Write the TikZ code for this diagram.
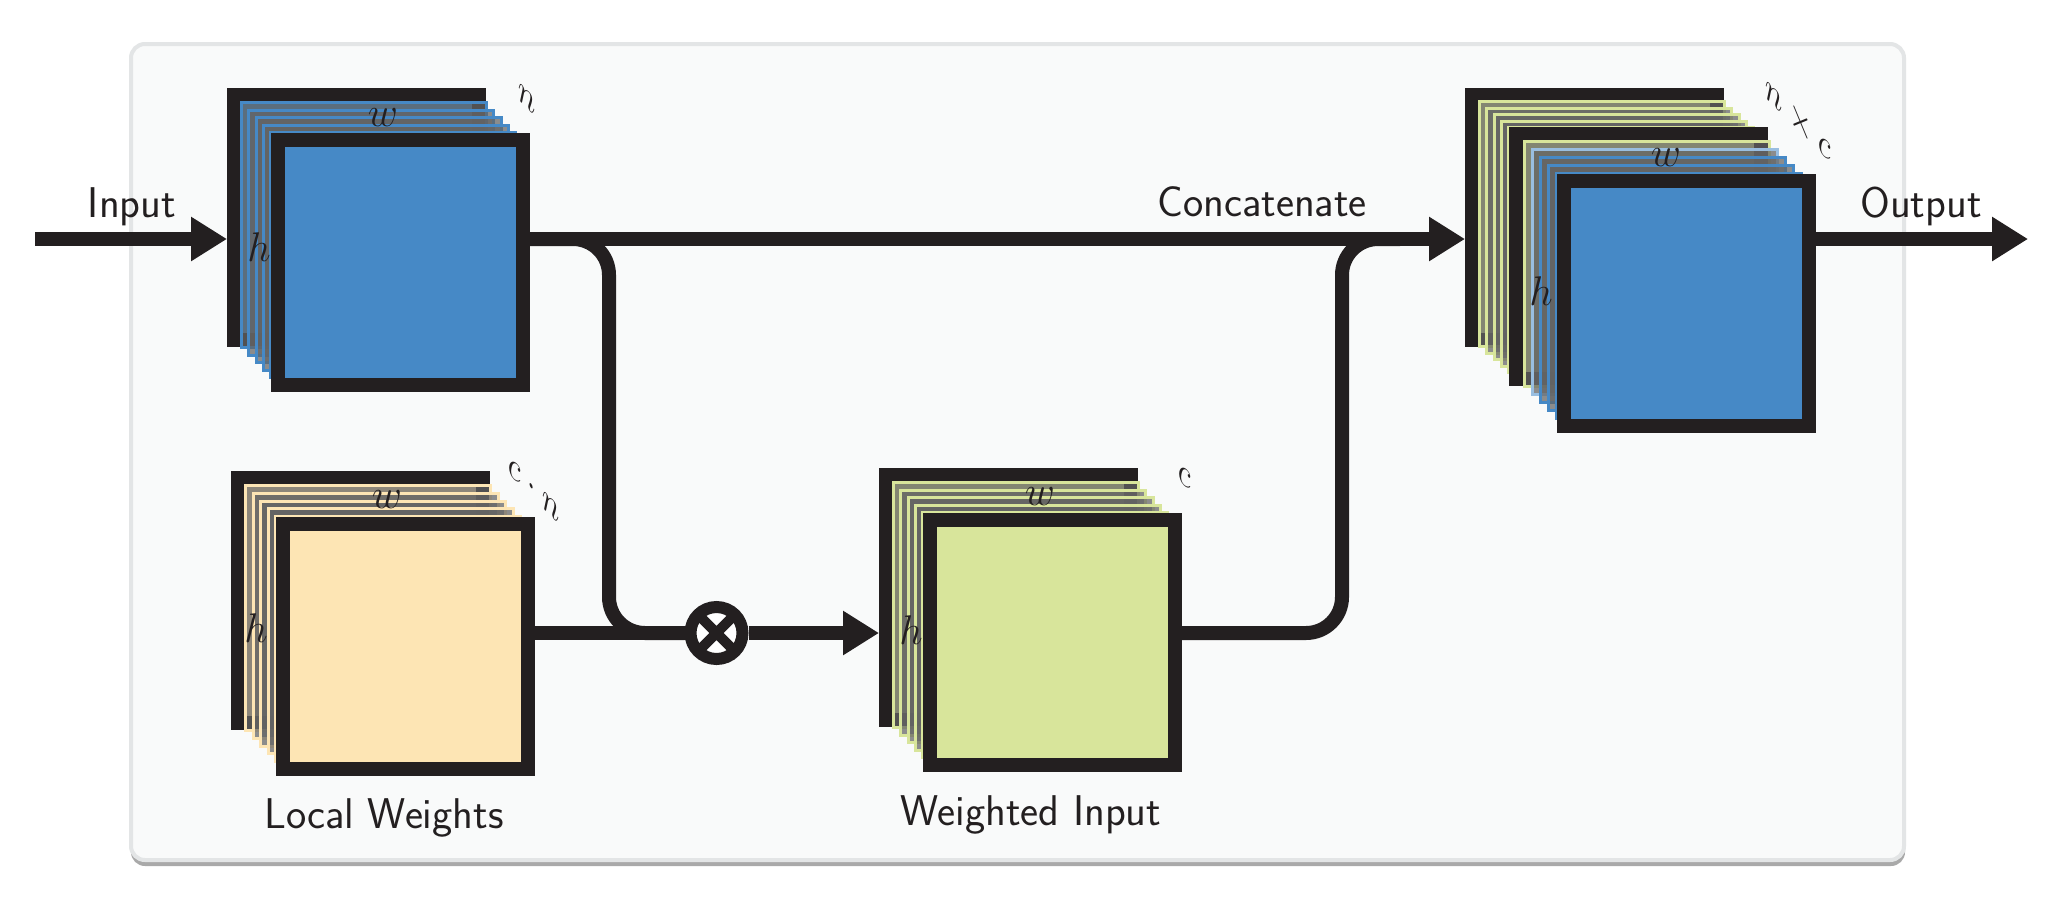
\documentclass[tikz,border=0pt]{standalone}
\usetikzlibrary{arrows.meta}
\definecolor{ink}{HTML}{231F20}
\definecolor{cblue}{HTML}{4689C6}
\definecolor{cpeach}{HTML}{FDE5B4}
\definecolor{cgreen}{HTML}{D8E59B}
\definecolor{laygray}{HTML}{646464}
\definecolor{panelfill}{HTML}{F9FAFA}
\definecolor{paneledge}{HTML}{E3E5E6}
\definecolor{panelshadow}{HTML}{A9A9A9}
\tikzset{
  fmap/.style={draw=ink, line width=7pt, minimum size=122.5pt, inner sep=0pt},
  thinmap/.style={draw=#1, line width=1.5pt, fill=laygray, fill opacity=0.73, draw opacity=1, minimum size=122.5pt, inner sep=0pt},
  conn/.style={draw=ink, line width=7pt},
  arr/.style={-{Triangle[length=18pt,width=21pt]}},
  txt/.style={font=\sffamily\fontsize{21.5pt}{26pt}\selectfont, text=ink, inner sep=0pt},
  mlab/.style={font=\fontsize{20.74pt}{25pt}\selectfont, text=ink, inner sep=0pt},
  depthlab/.style={mlab, cm={0.707,-0.707,0,1,(0,0)}},
  multnode/.style={circle, draw=ink, fill=white, line width=6pt, minimum size=26pt, inner sep=0pt,
    path picture={\draw[ink, line width=5pt] (path picture bounding box.north west) -- (path picture bounding box.south east)
      (path picture bounding box.north east) -- (path picture bounding box.south west);}}
}
\newcommand{\thinstack}[6]{%
  \foreach \lc [count=\k] in {#5}{%
    \pgfmathsetmacro\cx{#1+\k*(#3-#1)/6}%
    \pgfmathsetmacro\cy{#2+\k*(#4-#2)/6}%
    \node[thinmap=\lc] (#6\k) at (\cx,\cy) {};
  }}
\begin{document}
\begin{tikzpicture}[x=0.5pt,y=-0.5pt]
\fill[white] (0,0) rectangle (2055,917);
\useasboundingbox (0,0) rectangle (2055,917);
% panel
\fill[panelshadow, rounded corners=7pt] (131,49) rectangle (1905,866);
\draw[fill=panelfill, draw=paneledge, line width=2pt, rounded corners=7pt] (131,44) rectangle (1904,860);

% stack 1 (input)
\node[fmap, fill=cblue] (s1b) at (356.5,217.5) {};
\thinstack{356.5}{217.5}{400.5}{262.5}{cblue,cblue,cblue,cblue,cblue}{s1l}
\node[fmap, fill=cblue] (s1f) at (400.5,262.5) {};

% local weights
\node[fmap, fill=cpeach] (lwb) at (360.5,600.5) {};
\thinstack{360.5}{600.5}{405.5}{646.5}{cpeach,cpeach,cpeach,cpeach,cpeach}{lwl}
\node[fmap, fill=cpeach] (lwf) at (405.5,646.5) {};

% weighted input
\node[fmap, fill=cgreen] (wib) at (1008.5,597.5) {};
\thinstack{1008.5}{597.5}{1052.5}{642.5}{cgreen,cgreen,cgreen,cgreen,cgreen}{wil}
\node[fmap, fill=cgreen] (wif) at (1052.5,642.5) {};

% concatenated output
\node[fmap, fill=cgreen] (cb) at (1594.5,217.5) {};
\thinstack{1594.5}{217.5}{1638.5}{256.5}{cgreen,cgreen,cgreen,cgreen,cgreen}{cla}
\node[fmap, fill=cgreen] (cm) at (1638.5,256.5) {};
\thinstack{1638.5}{256.5}{1686.5}{303.5}{cgreen,cblue!55!white,cblue,cblue,cblue}{clb}
\node[fmap, fill=cblue] (cf) at (1686.5,303.5) {};

% connectors
\coordinate (ystart) at (35,239);
\coordinate (oend) at (2028,239);
\coordinate (j1) at (609,239);
\coordinate (j1b) at (609,633);
\coordinate (j2) at (1342,633);
\coordinate (j2b) at (1342,239);
\coordinate (j2e) at (1400,239);
\node[multnode] (mult) at (716.5,633) {};

\draw[conn, arr] (ystart) -- (ystart -| s1b.west);
\draw[conn, rounded corners=18pt] (s1f.east |- ystart) -- (j1) -- (j1b) -- (mult.west);
\draw[conn] (lwf.east |- mult) -- (mult.west);
\draw[conn, arr] (mult.east) -- (mult -| wib.west);
\draw[conn, rounded corners=18pt] (wif.east |- mult) -- (j2) -- (j2b) -- (j2e);
\draw[conn, arr] (s1f.east |- ystart) -- (ystart -| cb.west);
\draw[conn, arr] (cf.east |- oend) -- (oend);

% texts
\node[txt, anchor=base] (tin) at (132,217) {Input};
\node[txt, anchor=base] (tcat) at (1262,216) {Concatenate};
\node[txt, anchor=base] (tout) at (1921,217) {Output};
\node[txt, anchor=base] (tlw) at (384,828) {Local Weights};
\node[txt, anchor=base] (twi) at (1031,825) {Weighted Input};

% dimension labels
\node[mlab] (s1w) at (383,118) {$w$};
\node[mlab] (s1h) at (259,247) {$h$};
\node[depthlab] (s1n) at (527,99) {$n$};
\node[mlab] (lww) at (387,500) {$w$};
\node[mlab] (lwh) at (256,628) {$h$};
\node[depthlab] (lwn) at (534,490) {$c\cdot n$};
\node[mlab] (wiw) at (1040,497) {$w$};
\node[mlab] (wih) at (911,630) {$h$};
\node[depthlab] (wic) at (1185,477) {$c$};
\node[mlab] (cw) at (1666,158) {$w$};
\node[mlab] (ch) at (1541,291) {$h$};
\node[depthlab] (cnc) at (1798,120) {$n\times c$};
\end{tikzpicture}
\end{document}
